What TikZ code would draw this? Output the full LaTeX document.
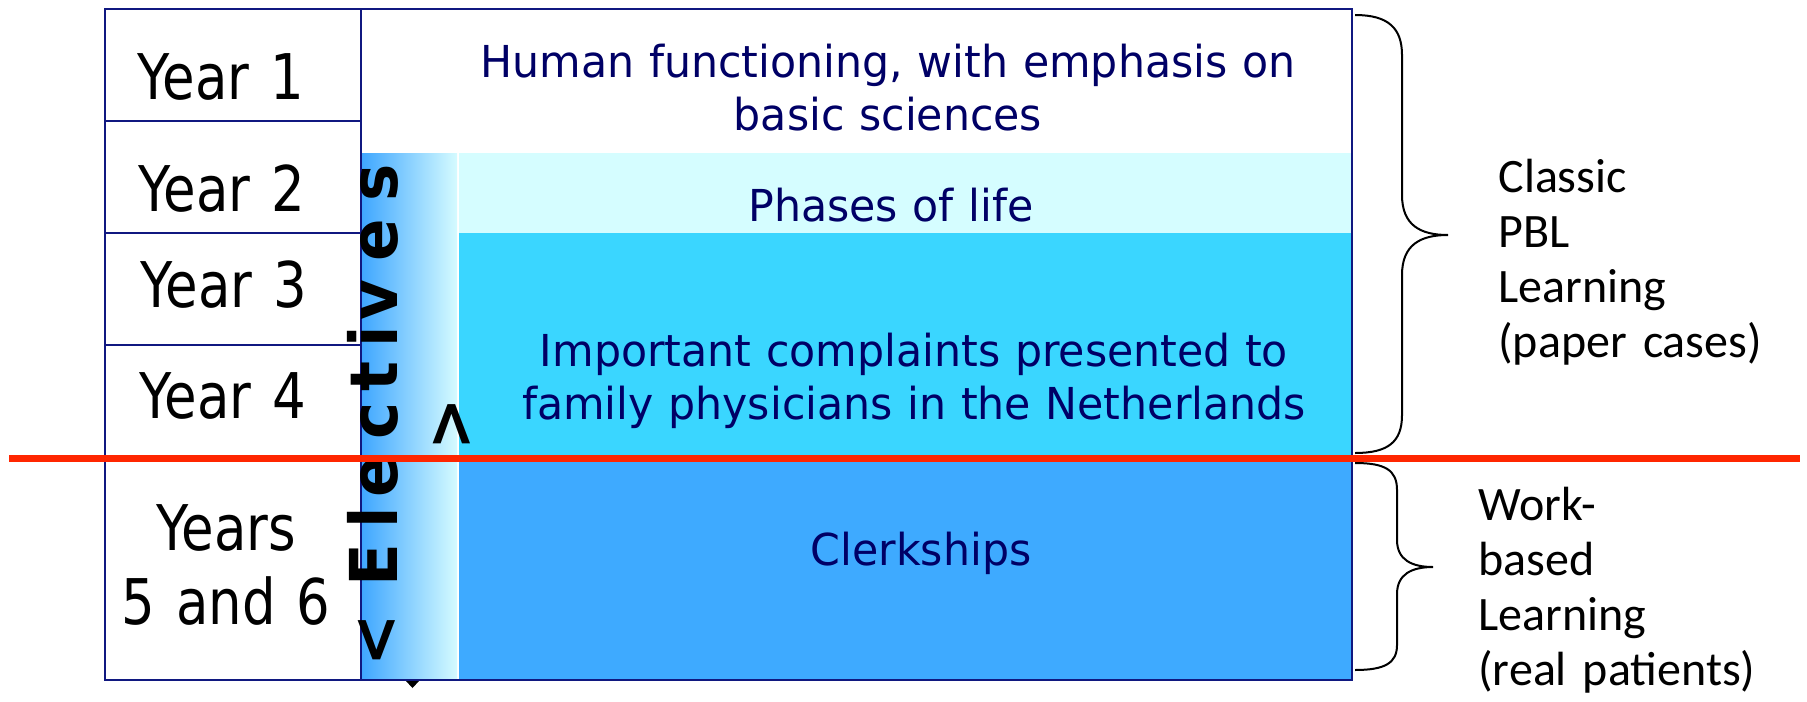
\documentclass[tikz,border=0pt]{standalone}
\usepackage{fontspec}
\newfontfamily\yearfont[FakeStretch=0.84]{DejaVu Sans}
\newfontfamily\bluefont[FakeStretch=0.97]{DejaVu Sans}
\newfontfamily\elecfont[FakeStretch=0.95]{DejaVu Sans}
\newfontfamily\calfont{Carlito}
\definecolor{navyline}{RGB}{16,24,128}
\definecolor{bluetext}{RGB}{0,0,102}
\definecolor{phasecol}{RGB}{213,253,255}
\definecolor{complcol}{RGB}{58,214,255}
\definecolor{clerkcol}{RGB}{62,170,255}
\definecolor{gradleft}{RGB}{62,166,255}
\definecolor{gradright}{RGB}{213,251,255}
\definecolor{redline}{RGB}{255,38,0}
\begin{document}
\begin{tikzpicture}[x=0.5pt,y=-0.5pt,
  yearlbl/.style={font=\yearfont\fontsize{31.5}{37}\selectfont, text=black, inner sep=0pt, text width=200pt, align=center, anchor=base},
  bluelbl/.style={font=\bluefont\fontsize{22}{26.5}\selectfont, text=bluetext, inner sep=0pt, text width=450pt, align=center, anchor=base},
  sidelbl/.style={font=\calfont\fontsize{24}{27.5}\selectfont, text=black, inner sep=0pt, text width=160pt, align=left, anchor=base west},
  elec/.style={font=\elecfont\bfseries\fontsize{33}{33}\selectfont, text=black, rotate=90, anchor=base, inner sep=0pt},
  border/.style={draw=navyline, line width=1pt},
  bracepath/.style={draw=black, line width=1pt},
  sepline/.style={draw=redline, line width=3.5pt}]
\useasboundingbox (0,0) rectangle (1807,701);
% fills
\fill[white] (361,9) rectangle (1352,153);
\shade[left color=gradleft, right color=gradright] (361,153) rectangle (457,680);
\fill[phasecol] (459,153) rectangle (1352,233);
\fill[complcol] (459,233) rectangle (1352,458);
\fill[clerkcol] (459,458) rectangle (1352,680);
% borders
\draw[border] (105,9) rectangle (1352,680);
\draw[border] (361,9) -- (361,680);
\foreach \yy in {121,233,345,458} \draw[border] (105,\yy) -- (361,\yy);
% year labels
\node[yearlbl] (y1) at (221,99) {Year 1};
\node[yearlbl] (y2) at (222,211) {Year 2};
\node[yearlbl] (y3) at (224,307) {Year 3};
\node[yearlbl] (y4) at (223,418) {Year 4};
\node[yearlbl] (y56) at (226,550) {Years\\5 and 6};
% blue labels
\node[bluelbl] (human) at (888,77) {Human functioning, with emphasis on\\basic sciences};
\node[bluelbl] (phases) at (891,221) {Phases of life};
\node[bluelbl] (compl) at (914,366) {Important complaints presented to\\family physicians in the Netherlands};
\node[bluelbl] (clerk) at (921,565) {Clerkships};
% electives
\foreach \ch/\yy [count=\i] in {{<}/640,E/565,l/518,e/476,c/421,t/377,i/337,v/300,e/240,s/183}
  \node[elec] (el\i) at (397,\yy) {\ch};
\node[elec] (elgt) at (472,424) {>};
\fill[black] (406,681) -- (419,681) -- (412.5,688) -- cycle;
% braces
\coordinate (b1top) at (1355,15);
\coordinate (b1tip) at (1448,235);
\coordinate (b1bot) at (1355,453);
\draw[bracepath] (b1top) .. controls (1388,15) and (1402,28) .. (1402,55) -- (1402,195)
  .. controls (1402,225) and (1420,235) .. (b1tip)
  .. controls (1420,235) and (1402,245) .. (1402,275) -- (1402,415)
  .. controls (1402,442) and (1388,453) .. (b1bot);
\coordinate (b2top) at (1355,463);
\coordinate (b2tip) at (1433,567);
\coordinate (b2bot) at (1355,670);
\draw[bracepath] (b2top) .. controls (1385,463) and (1397,470) .. (1397,490) -- (1397,540)
  .. controls (1397,560) and (1412,567) .. (b2tip)
  .. controls (1412,567) and (1397,574) .. (1397,594) -- (1397,645)
  .. controls (1397,663) and (1385,670) .. (b2bot);
% side labels
\node[sidelbl] (classic) at (1498,192) {Classic\\PBL\\Learning\\(paper cases)};
\node[sidelbl] (work) at (1478,520) {Work-\\based\\Learning\\(real patients)};
% red separator
\coordinate (redL) at (9,458);
\coordinate (redR) at (1800,458);
\draw[sepline] (redL) -- (redR);
\end{tikzpicture}
\end{document}
